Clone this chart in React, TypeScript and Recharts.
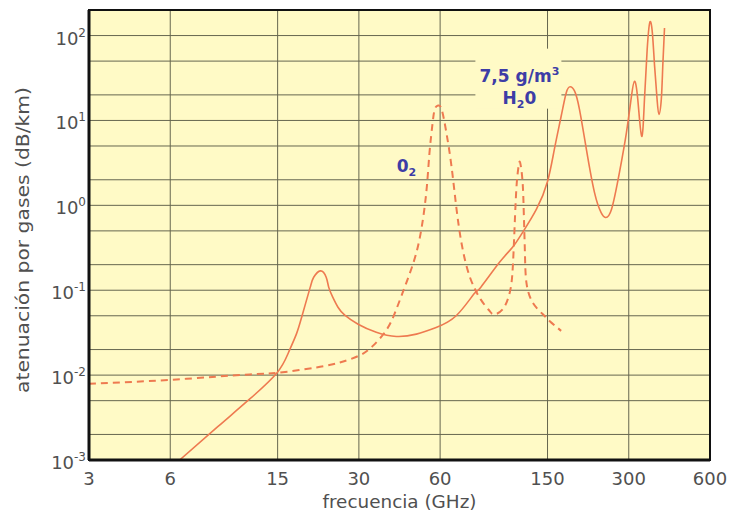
import { LineChart, Line, XAxis, YAxis, CartesianGrid, ReferenceArea, ReferenceDot, Label } from 'recharts';

const freqTicks = [3, 6, 15, 30, 60, 150, 300, 600];
const attTicks = [0.001, 0.01, 0.1, 1, 10, 100];
const attGrid = [0.002, 0.005, 0.01, 0.02, 0.05, 0.1, 0.2, 0.5, 1, 2, 5, 10, 20, 50, 100];

// water vapour (7,5 g/m3)
const h2oFreq = [6.5, 9, 11.8, 14.9, 16.4, 17.6, 18.5, 19.8, 20.4, 21.6, 22.7, 23.2, 24, 25.1, 26.6, 29.8, 34.8, 41.3, 49, 58, 68.8, 80, 84.8, 99.6, 111.3, 121.3, 136.5, 150, 159, 168.5, 176, 182, 189, 197, 209, 224, 237, 246, 259, 277, 294, 307, 315, 324, 335, 343, 351, 359, 367, 374, 382, 388, 396, 401, 407];
const h2oAtt = [0.001, 0.00247, 0.0052, 0.0106, 0.018, 0.0304, 0.0508, 0.108, 0.142, 0.169, 0.142, 0.108, 0.0828, 0.063, 0.0508, 0.0398, 0.032, 0.0285, 0.0304, 0.0364, 0.05, 0.09, 0.108, 0.213, 0.32, 0.48, 0.9, 1.91, 4.56, 11.2, 21.2, 24.9, 22.1, 13.5, 4.56, 1.41, 0.82, 0.72, 0.9, 2.43, 7.16, 19.3, 29, 17.7, 6.5, 17.7, 68, 143, 107, 43.6, 17.7, 11.8, 17.7, 43.6, 123];

// oxygen
const o2Freq = [3, 6, 11.8, 14.9, 20.9, 25.5, 30, 33.8, 38.1, 41.3, 45, 49, 51.8, 53.6, 54.8, 56.1, 57.3, 59, 60.8, 63.3, 66.1, 68.8, 72, 77.1, 84.8, 91.5, 95, 102.4, 108.7, 111.6, 113.7, 115.4, 117.2, 118.8, 121.3, 122.6, 123.7, 125.3, 132.2, 144.2, 152.6, 168.5];
const o2Att = [0.0079, 0.0088, 0.0102, 0.0106, 0.0123, 0.0141, 0.0169, 0.0221, 0.0347, 0.0597, 0.123, 0.277, 0.68, 1.69, 4.17, 8.57, 13.5, 15, 13.5, 7.16, 2.9, 0.98, 0.36, 0.147, 0.078, 0.057, 0.052, 0.0597, 0.094, 0.193, 0.75, 1.85, 2.9, 3.18, 1.85, 0.75, 0.277, 0.123, 0.0716, 0.052, 0.0435, 0.0332];

const h2oData = h2oFreq.map((f, i) => ({ f, v: h2oAtt[i] }));
const o2Data = o2Freq.map((f, i) => ({ f, v: o2Att[i] }));

const font = '"DejaVu Sans", sans-serif';
const ink = '#505050';
const blue = '#3d3da6';
const bg = '#fffac6';
const curve = '#ee7a50';

const PowerTick = (props: any) => {
  const { x, y, payload } = props;
  const exp = Math.round(Math.log10(payload.value));
  return (
    <text x={x} y={y + 9} textAnchor="end" fill={ink} fontSize={18} fontFamily={font}>
      10<tspan dy={-8} fontSize={12}>{exp}</tspan>
    </text>
  );
};

const FreqTick = (props: any) => {
  const { x, y, payload } = props;
  return (
    <text x={x} y={y + 13} textAnchor="middle" fill={ink} fontSize={18} fontFamily={font}>
      {payload.value}
    </text>
  );
};

const H2OLabel = ({ cx, cy }: any) => (
  <g>
    <rect x={cx - 44} y={cy - 38} width={86} height={60} fill={bg} />
    <text x={cx} y={cy - 5} textAnchor="middle" fill={blue} fontSize={17} fontWeight="bold" fontFamily={font}>
      7,5 g/m<tspan dy={-7} fontSize={11}>3</tspan>
    </text>
    <text x={cx} y={cy + 17} textAnchor="middle" fill={blue} fontSize={17} fontWeight="bold" fontFamily={font}>
      H<tspan dy={4} fontSize={11}>2</tspan><tspan dy={-4}>0</tspan>
    </text>
  </g>
);

const O2Label = ({ cx, cy }: any) => (
  <text x={cx} y={cy + 6} textAnchor="middle" fill={blue} fontSize={17} fontWeight="bold" fontFamily={font}>
    0<tspan dy={4} fontSize={11}>2</tspan>
  </text>
);

export default function App() {
  return (
    <div style={{ position: 'absolute', left: 0, top: 0, background: '#fff' }}>
      <LineChart width={732} height={516} margin={{ top: 10, right: 22, bottom: 0, left: 0 }}>
        <CartesianGrid
          fill={bg}
          fillOpacity={1}
          stroke="#66664f"
          strokeWidth={1}
          horizontalValues={attGrid}
          verticalValues={freqTicks}
        />
        <XAxis
          type="number"
          dataKey="f"
          scale="log"
          domain={[3, 600]}
          ticks={freqTicks}
          allowDataOverflow
          height={56}
          tickSize={0}
          tickMargin={12}
          tick={<FreqTick />}
          axisLine={{ stroke: '#111', strokeWidth: 3 }}
        >
          <Label
            content={({ viewBox }: any) => (
              <text
                x={viewBox.x + viewBox.width / 2}
                y={viewBox.y + 48}
                textAnchor="middle"
                fill={ink}
                fontSize={18}
                fontFamily={font}
                textLength={154}
                lengthAdjust="spacingAndGlyphs"
              >
                frecuencia (GHz)
              </text>
            )}
          />
        </XAxis>
        <YAxis
          type="number"
          dataKey="v"
          scale="log"
          domain={[0.001, 200]}
          ticks={attTicks}
          allowDataOverflow
          width={89}
          tickSize={0}
          tickMargin={3}
          tick={<PowerTick />}
          axisLine={{ stroke: '#111', strokeWidth: 3 }}
        >
          <Label
            content={({ viewBox }: any) => {
              const cy = viewBox.y + viewBox.height / 2 + 5;
              return (
                <text
                  x={23}
                  y={cy}
                  dy="0.35em"
                  transform={`rotate(-90, 23, ${cy})`}
                  textAnchor="middle"
                  fill={ink}
                  fontSize={18}
                  fontFamily={font}
                  textLength={306}
                  lengthAdjust="spacingAndGlyphs"
                >
                  atenuación por gases (dB/km)
                </text>
              );
            }}
          />
        </YAxis>
        <Line
          data={o2Data}
          dataKey="v"
          type="natural"
          stroke={curve}
          strokeWidth={2}
          strokeDasharray="7 5"
          dot={false}
          isAnimationActive={false}
        />
        <Line
          data={h2oData}
          dataKey="v"
          type="natural"
          stroke={curve}
          strokeWidth={1.6}
          dot={false}
          isAnimationActive={false}
        />
        <ReferenceDot x={118} y={25} r={0} shape={(p: any) => <H2OLabel cx={p.cx} cy={p.cy} />} />
        <ReferenceDot x={45} y={2.9} r={0} shape={(p: any) => <O2Label cx={p.cx} cy={p.cy} />} />
        <ReferenceArea x1={3} x2={600} y1={0.001} y2={200} fill="none" stroke="#111" strokeWidth={2} ifOverflow="visible" />
      </LineChart>
    </div>
  );
}
